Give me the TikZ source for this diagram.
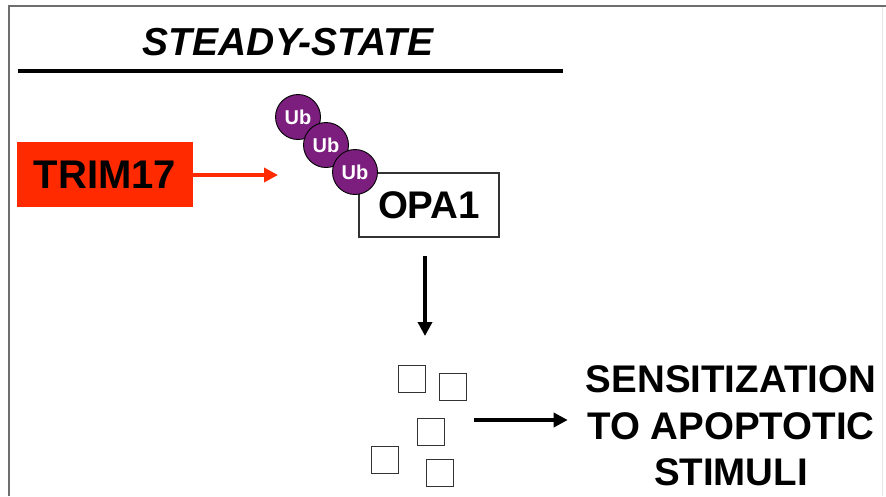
\documentclass[tikz,border=0pt]{standalone}
\usepackage{fontspec}
\setmainfont{Liberation Sans}
\usetikzlibrary{arrows.meta}
\definecolor{trimred}{HTML}{FF2A00}
\definecolor{ubpurple}{HTML}{7B1E7E}
\definecolor{framegray}{HTML}{6E6E6E}
\definecolor{edgegray}{HTML}{E6E6E6}

\begin{document}
\begin{tikzpicture}[x=1pt,y=-1pt,
  big/.style={font=\bfseries\fontsize{38.5}{46.5}\selectfont, inner sep=0pt},
  ub/.style={circle, draw=black, line width=0.9pt, fill=ubpurple, minimum size=45pt,
    inner sep=0pt, text=white, font=\bfseries\fontsize{20}{20}\selectfont},
  fragment/.style={draw=black!80, line width=1.4pt, minimum size=27pt, inner sep=0pt},
  blackarrow/.style={line width=3.4pt, -{Triangle[length=14pt,width=14pt]}},
  redarrow/.style={trimred, line width=3.4pt, -{Triangle[length=14pt,width=14pt]}},
]
\useasboundingbox (0,0) rectangle (886,496);

% frame
\draw[edgegray, line width=1pt] (882,6) -- (882,496);
\draw[framegray, line width=2pt] (9,496) -- (9,6) -- (886,6);

% header
\node[anchor=base, inner sep=0pt, font=\bfseries\itshape\fontsize{39}{45}\selectfont]
  (title) at (288,55) {STEADY-STATE};
\draw[line width=3.2pt] (18,71) -- (563,71);

% ligase
\node[fill=trimred, minimum width=176pt, minimum height=65pt, inner sep=0pt,
  font=\bfseries\fontsize{40}{46}\selectfont] (trim) at (105,174.5) {TRIM17};

% substrate with ubiquitin chain
\node[draw=black!80, line width=1.2pt, minimum width=140pt, minimum height=64pt, big]
  (opa) at (429,205) {OPA1};
\node[ub] (ub1) at (298,117) {Ub};
\node[ub] (ub2) at (326,145) {Ub};
\node[ub] (ub3) at (355,172) {Ub};

\coordinate (rtip) at (278,175);
\draw[redarrow] (trim.east |- rtip) -- (rtip);

% degradation
\coordinate (dtop) at (425,256);
\coordinate (dbot) at (425,336);
\draw[blackarrow] (dtop) -- (dbot);

\node[fragment] (f1) at (412,379) {};
\node[fragment] (f2) at (453,387) {};
\node[fragment] (f3) at (431,432) {};
\node[fragment] (f4) at (385,460) {};
\node[fragment] (f5) at (440,473) {};

% outcome
\node[big, align=center] (outcome) at (731,426) {SENSITIZATION\\TO APOPTOTIC\\STIMULI};
\coordinate (ra) at (474,420);
\draw[blackarrow, shorten >=18pt] (ra) -- (ra -| outcome.west);
\end{tikzpicture}
\end{document}
